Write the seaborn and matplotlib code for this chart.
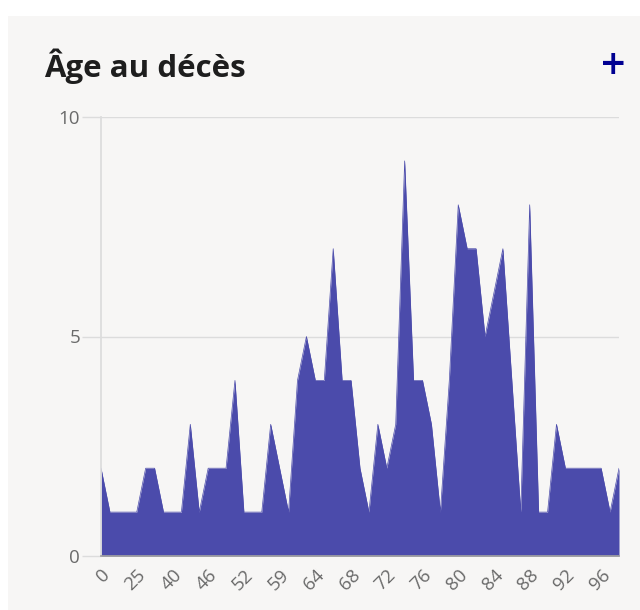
import numpy as np
import pandas as pd
import matplotlib
matplotlib.use("Agg")
import matplotlib.pyplot as plt
import seaborn as sns

# ages (categories on the x axis) and number of deaths per age
ages = [0, 18, 20, 22, 25, 30, 33, 37, 40, 42, 43, 45, 46, 47, 49, 51, 52, 53, 55, 57,
        59, 60, 62, 63, 64] + list(range(65, 99))
deaths = [2, 1, 1, 1, 1, 2, 2, 1, 1, 1,
          3, 1, 2, 2, 2, 4, 1, 1, 1, 3,
          2, 1, 4, 5, 4, 4, 7, 4, 4, 2,
          1, 3, 2, 3, 9, 4, 4, 3, 1, 4,
          8, 7, 7, 5, 6, 7, 4, 1, 8, 1,
          1, 3, 2, 2, 2, 2, 2, 1, 2]
y_ticks = [0, 5, 10]

BG = "#f7f6f5"
FILL = "#4b4bab"

df = pd.DataFrame({"age": [str(a) for a in ages], "n": deaths})
df["pos"] = np.arange(len(df))

sns.set_theme(style="white")
plt.rcParams['font.family'] = ['Open Sans', 'DejaVu Sans']

fig = plt.figure(figsize=(6.4, 6.1), dpi=100, facecolor="white")
# card background
fig.patches.append(plt.Rectangle((8 / 640, 0), 1, 1 - 16 / 610, transform=fig.transFigure,
                                 facecolor=BG, edgecolor="none", zorder=-1))

ax = fig.add_axes([101 / 640, 1 - 556 / 610, 518 / 640, 439 / 610])
ax.set_facecolor(BG)

sns.lineplot(data=df, x="pos", y="n", ax=ax, color=FILL, linewidth=0.5)
ax.fill_between(df["pos"], df["n"], 0, color=FILL, linewidth=0)

ax.set_xlim(0, len(df) - 1)
ax.set_ylim(0, 10)
ax.set_yticks(y_ticks)
ax.set_yticklabels([str(t) for t in y_ticks], color="#6a6a6a", fontsize=13.5)
ax.yaxis.grid(True, color="#dcdcdc", linewidth=1)
ax.set_axisbelow(True)

xt = df["pos"][::4]
ax.set_xticks(xt)
ax.set_xticklabels(df["age"][::4], rotation=45, ha="right", rotation_mode="anchor",
                   color="#6a6a6a", fontsize=13.5)
ax.tick_params(axis="x", length=0, pad=7)
ax.tick_params(axis="y", length=14, color="#dcdcdc", width=1, pad=1, left=True)
ax.set_xlabel("")
ax.set_ylabel("")

for s in ["top", "right"]:
    ax.spines[s].set_visible(False)
ax.spines["left"].set_color("#dcdcdc")
ax.spines["bottom"].set_color("#a0a0a0")

fig.text(44 / 640, 1 - 66 / 610, "Âge au décès", fontsize=22.5, fontweight="bold",
         color="#1e1e1e", va="center", ha="left")
fig.text(613 / 640, 1 - 68 / 610, "+", fontsize=31, fontweight="semibold", color="#000091",
         va="center", ha="center")

fig.savefig("out.png", dpi=100, facecolor=fig.get_facecolor())
